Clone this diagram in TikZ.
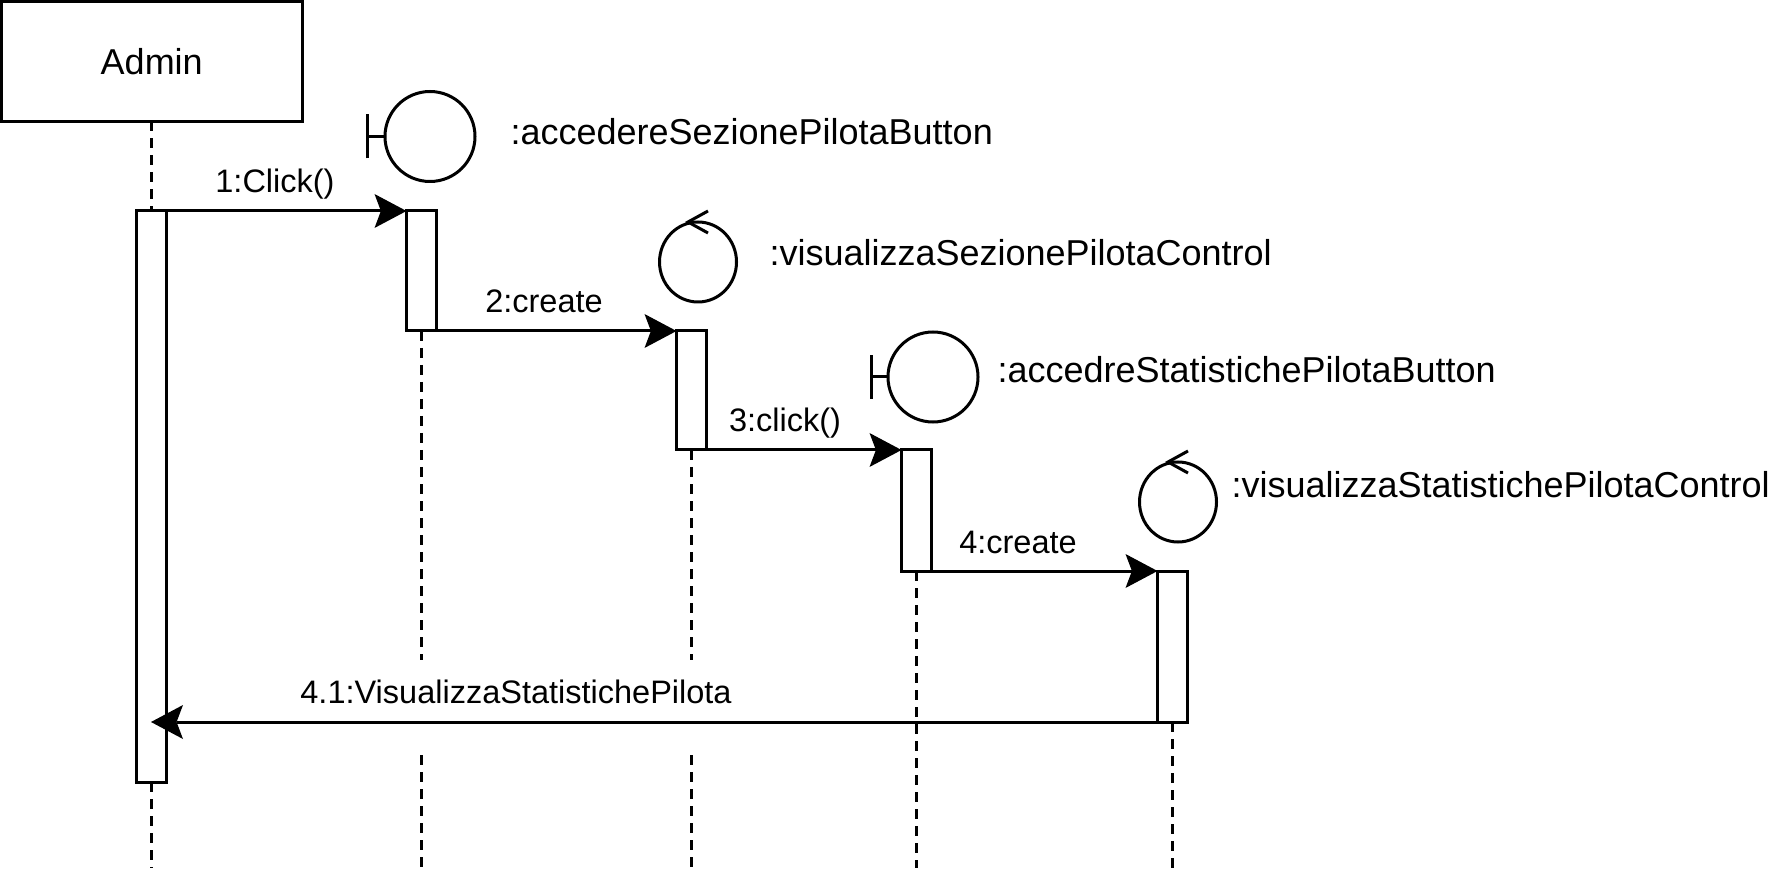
\documentclass[tikz,border=0pt]{standalone}
\usepackage{fontspec}
\setmainfont{Liberation Sans}
\usetikzlibrary{arrows.meta,shapes.geometric}
\begin{document}
\begin{tikzpicture}[x=0.5pt,y=-0.5pt, line width=1.5pt,
  act/.style={draw, fill=white, inner sep=0pt, outer sep=0pt, minimum width=15pt},
  life/.style={dash pattern=on 5pt off 3.5pt},
  msg/.style={-{Stealth[length=16pt,width=17pt,inset=3.2pt,line width=0pt]}},
  mlabel/.style={font=\fontsize{16.25}{18}\selectfont, inner sep=0pt, anchor=base},
  plabel/.style={font=\fontsize{18}{20}\selectfont, inner sep=0pt, anchor=base west},
  bnd/.style={draw, circle, inner sep=0pt, outer sep=0pt, minimum size=45pt},
  ctl/.style={draw, ellipse, inner sep=0pt, outer sep=0pt, minimum width=38.5pt, minimum height=40pt}]
\fill[white] (0,0) rectangle (1770,876);
\useasboundingbox (0,0) rectangle (1770,876);

% participants
\node[draw, inner sep=0pt, outer sep=0pt, minimum width=150.25pt, minimum height=60pt,
      font=\fontsize{18}{20}\selectfont] (Admin) at (151.75,61.5) {Admin};
\node[bnd] (B1) at (430,136.5) {};
\draw (B1.west) -- ++(-18,0) coordinate (b1t);
\draw ([yshift=-11pt]b1t) -- ([yshift=11pt]b1t);
\node[ctl] (C1) at (698,262) {};
\draw ([shift={(10,-11)}]C1.north) -- ++(-20,11) -- ++(20,11);
\node[bnd] (B2) at (933,377) {};
\draw (B2.west) -- ++(-17,0) coordinate (b2t);
\draw ([yshift=-11pt]b2t) -- ([yshift=11pt]b2t);
\node[ctl] (C2) at (1178,502) {};
\draw ([shift={(10,-11)}]C2.north) -- ++(-20,11) -- ++(20,11);

\node[plabel] (t1) at (509,145) {:accedereSezionePilotaButton};
\node[plabel] (t2) at (768,266) {:visualizzaSezionePilotaControl};
\node[plabel] (t3) at (996,383) {:accedreStatistichePilotaButton};
\node[plabel] (t4) at (1230,497) {:visualizzaStatistichePilotaControl};

% lifeline end points
\coordinate (E0) at (151,868);
\coordinate (G1a) at (421.5,660); \coordinate (G1b) at (421.5,755); \coordinate (E1) at (421.5,868);
\coordinate (G2a) at (691.5,660); \coordinate (G2b) at (691.5,755); \coordinate (E2) at (691.5,868);
\coordinate (E3) at (916.5,868);
\coordinate (E4) at (1172.5,868);

% activations
\node[act, minimum height=285.5pt] (A0) at (151,496.5) {};
\node[act, minimum height=60pt] (A1) at (421.5,271) {};
\node[act, minimum height=59.5pt] (A2) at (691.5,390.5) {};
\node[act, minimum height=60.5pt] (A3) at (916.5,510.5) {};
\node[act, minimum height=75.5pt] (A4) at (1172.5,646.5) {};

% lifelines
\draw[life] (Admin.south -| A0.north) -- (A0.north);
\draw[life] (A0.south) -- (E0);
\draw[life] (A1.south) -- (G1a);
\draw[life] (G1b) -- (E1);
\draw[life] (A2.south) -- (G2a);
\draw[life] (G2b) -- (E2);
\draw[life] (A3.south) -- (E3);
\draw[life] (A4.south) -- (E4);

% messages
\draw[msg] (A0.north east) -- (A1.north west);
\node[mlabel] (m1) at (275,193) {1:Click()};
\draw[msg] (A1.south east) -- (A2.north west);
\node[mlabel] (m2) at (544,313) {2:create};
\draw[msg] (A2.south east) -- (A3.north west);
\node[mlabel] (m3) at (785,432) {3:click()};
\draw[msg] (A3.south east) -- (A4.north west);
\node[mlabel] (m4) at (1018,553) {4:create};
\draw[msg] (A4.south west) -- (A4.south west -| A0.center);
\node[mlabel] (m5) at (516,703) {4.1:VisualizzaStatistichePilota};
\end{tikzpicture}
\end{document}
